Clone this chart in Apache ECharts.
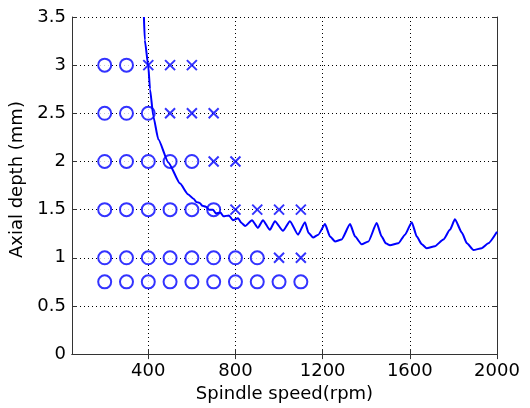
<!DOCTYPE html>
<html>
<head>
<meta charset="utf-8">
<script src="https://cdn.jsdelivr.net/npm/echarts@6/dist/echarts.min.js"></script>
<style>
html, body { margin: 0; padding: 0; background: #fff; }
#draw { width: 530px; height: 408px; }
</style>
</head>
<body>
<div id="draw"></div>
<script>
// stability boundary (rpm, mm)
var lobeSpeed = [380, 384, 400, 408, 423, 446, 492, 546, 582, 609, 620, 636, 648, 665, 678, 697, 710, 731, 745, 770, 788, 812, 828, 844, 876, 903, 926, 958, 981, 1018, 1050, 1087, 1119, 1135, 1156, 1180, 1211, 1234, 1257, 1287, 1326, 1349, 1379, 1410, 1448, 1471, 1490, 1509, 1547, 1578, 1609, 1632, 1655, 1677, 1715, 1754, 1784, 1807, 1839, 1862, 1892, 1930, 1960, 2000];
var lobeDepth = [3.50, 3.26, 2.99, 2.75, 2.47, 2.23, 1.99, 1.77, 1.66, 1.61, 1.58, 1.57, 1.54, 1.53, 1.50, 1.50, 1.46, 1.47, 1.43, 1.44, 1.39, 1.41, 1.36, 1.33, 1.39, 1.31, 1.39, 1.29, 1.38, 1.28, 1.38, 1.24, 1.37, 1.26, 1.21, 1.24, 1.35, 1.22, 1.17, 1.19, 1.35, 1.22, 1.14, 1.17, 1.36, 1.22, 1.15, 1.13, 1.15, 1.24, 1.37, 1.22, 1.14, 1.10, 1.12, 1.19, 1.29, 1.40, 1.26, 1.15, 1.08, 1.10, 1.15, 1.27];

// test cuts: depth rows and the speeds that were stable (o) / chatter (x)
var testDepths = [3, 2.5, 2, 1.5, 1, 0.75];
var stableSpeeds = [
	[200, 300],
	[200, 300, 400],
	[200, 300, 400, 500, 600],
	[200, 300, 400, 500, 600, 700],
	[200, 300, 400, 500, 600, 700, 800, 900],
	[200, 300, 400, 500, 600, 700, 800, 900, 1000, 1100]
];
var chatterSpeeds = [
	[400, 500, 600],
	[500, 600, 700],
	[700, 800],
	[800, 900, 1000, 1100],
	[1000, 1100],
	[]
];

var xTicks = [400, 800, 1200, 1600, 2000];

var blue = '#0000ff';
var fontFam = 'DejaVu Sans';

var lobeData = lobeSpeed.map(function(s, i) {
	return [s, lobeDepth[i]];
});
var stableData = [], chatterData = [];
testDepths.forEach(function(d, i) {
	stableSpeeds[i].forEach(function(s) { stableData.push([s, d]); });
	chatterSpeeds[i].forEach(function(s) { chatterData.push([s, d]); });
});

var myChart = echarts.init(document.getElementById('draw'));

var dotted = { show: true, lineStyle: { color: '#000', type: [1, 3], width: 1 } };
var axLine = { show: true, lineStyle: { color: '#333', width: 1 } };

option = {
	backgroundColor: '#fff',
	animation: false,
	grid: { left: 72, right: 33, top: 17, bottom: 51 },
	xAxis: [ {
		type: 'value',
		min: 50,
		max: 2000,
		name: 'Spindle speed(rpm)',
		nameLocation: 'middle',
		nameGap: 26,
		nameTextStyle: { color: '#000', fontSize: 18, fontFamily: fontFam },
		axisLine: axLine,
		axisTick: { inside: true, length: 5, customValues: xTicks, lineStyle: { color: '#333' } },
		axisLabel: {
			customValues: xTicks, color: '#000', fontSize: 18, fontFamily: fontFam, margin: 8,
			formatter: function(v) { return String(v); }
		},
		splitLine: dotted
	}, {
		type: 'value',
		position: 'top',
		min: 50,
		max: 2000,
		axisLine: axLine,
		axisTick: { inside: true, length: 5, customValues: xTicks, lineStyle: { color: '#333' } },
		axisLabel: { show: false },
		splitLine: { show: false }
	} ],
	yAxis: [ {
		type: 'value',
		min: 0,
		max: 3.5,
		interval: 0.5,
		name: 'Axial depth (mm)',
		nameLocation: 'middle',
		nameGap: 34,
		nameTextStyle: { color: '#000', fontSize: 18, fontFamily: fontFam, padding: [0, 0, 0, 12] },
		axisLine: axLine,
		axisTick: { inside: true, length: 5, lineStyle: { color: '#333' } },
		axisLabel: { color: '#000', fontSize: 18, fontFamily: fontFam, margin: 6 },
		splitLine: dotted
	}, {
		type: 'value',
		position: 'right',
		min: 0,
		max: 3.5,
		interval: 0.5,
		axisLine: axLine,
		axisTick: { inside: true, length: 5, lineStyle: { color: '#333' } },
		axisLabel: { show: false },
		splitLine: { show: false }
	} ],
	series: [ {
		name: 'stable',
		type: 'scatter',
		data: stableData,
		symbol: 'emptyCircle',
		symbolSize: 13,
		itemStyle: { color: blue, borderColor: blue, borderWidth: 1.8 },
		z: 3
	}, {
		name: 'chatter',
		type: 'scatter',
		data: chatterData,
		symbol: 'path://M0,0L10,10M10,0L0,10',
		symbolSize: 10,
		itemStyle: { color: 'none', borderColor: blue, borderWidth: 2 },
		z: 3
	}, {
		name: 'lobes',
		type: 'line',
		data: lobeData,
		showSymbol: false,
		smooth: 0.18,
		smoothMonotone: 'x',
		lineStyle: { color: blue, width: 2 },
		z: 4
	} ]
};
myChart.setOption(option);
</script>
</body>
</html>
